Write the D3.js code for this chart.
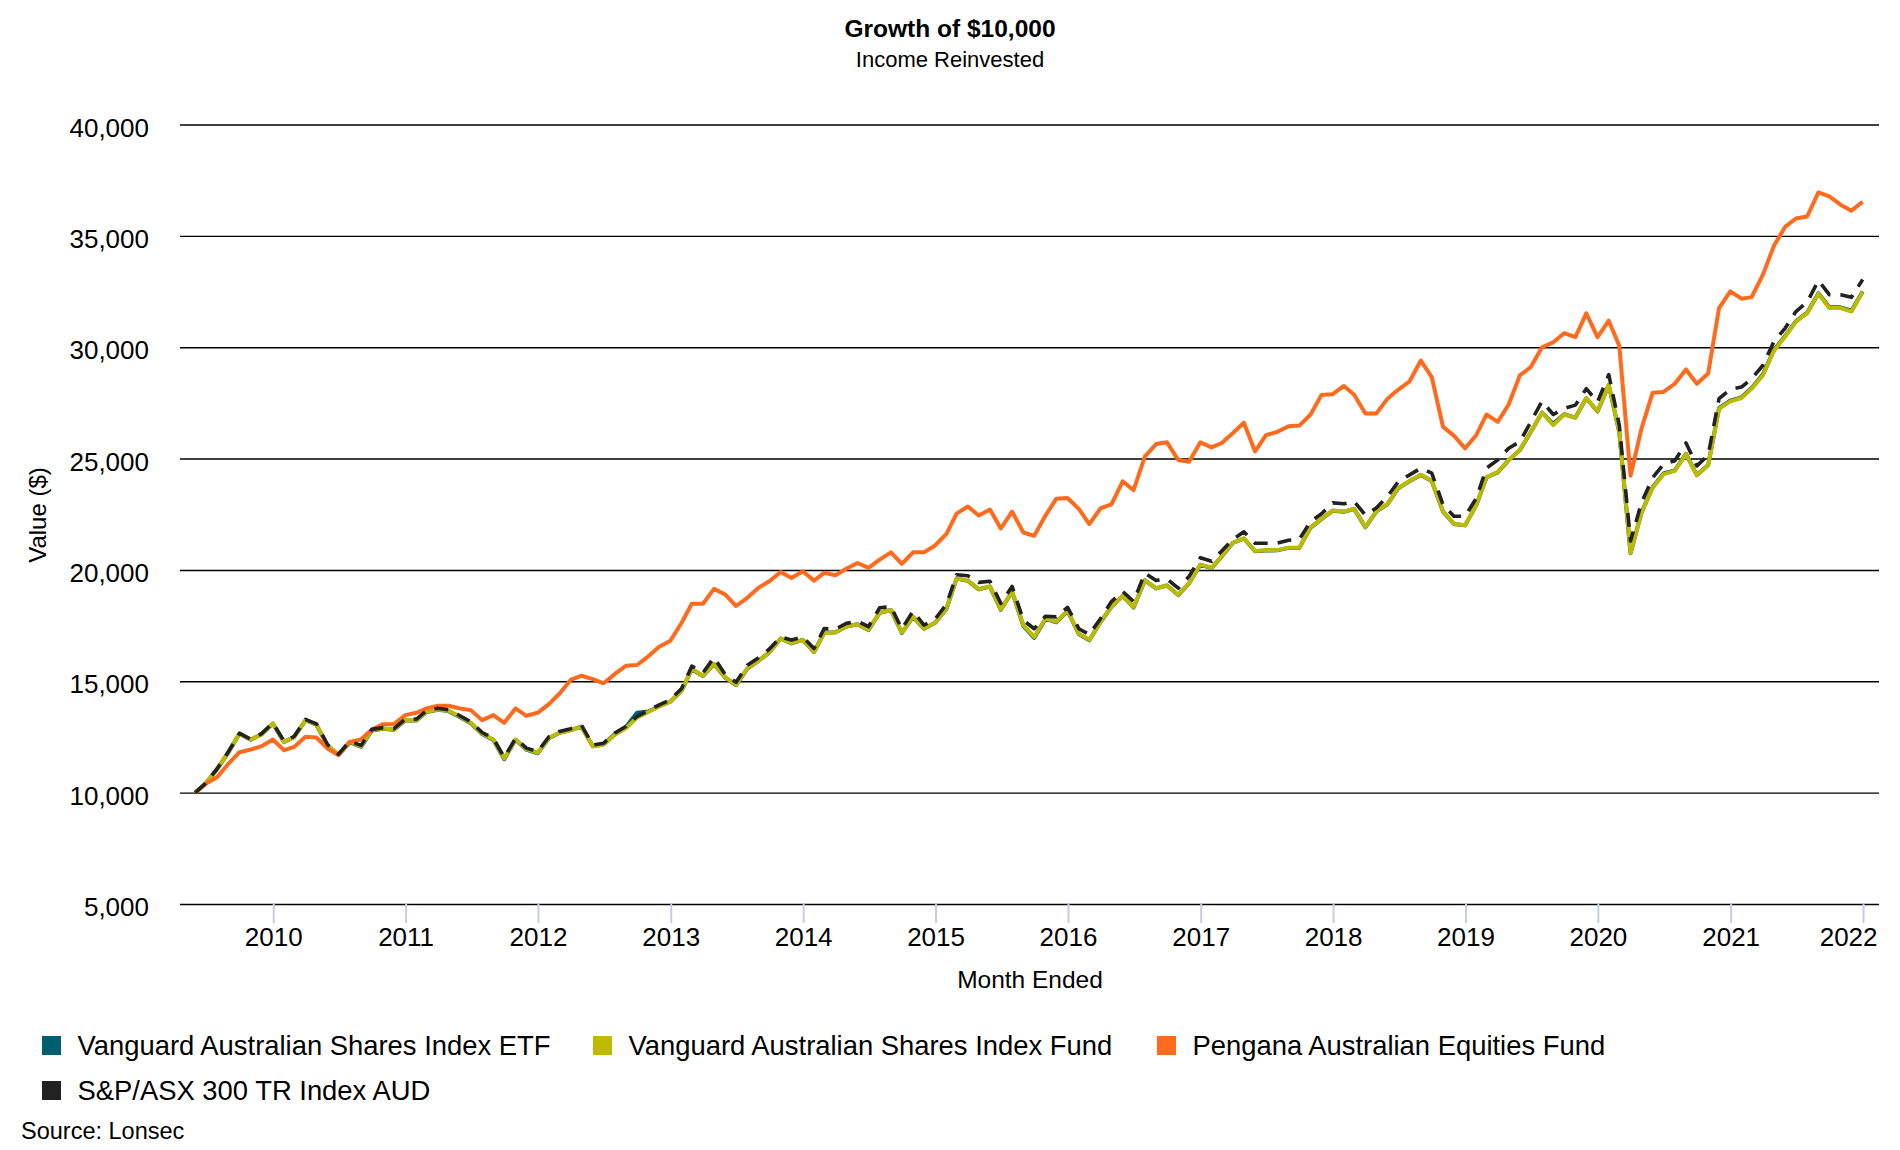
<!DOCTYPE html>
<html>
<head>
<meta charset="utf-8">
<script src="https://cdn.jsdelivr.net/npm/d3@7"></script>
<style>
  body { margin: 0; background: #fff; }
  svg text { font-family: "Liberation Sans", Arial, sans-serif; fill: #000; }
</style>
</head>
<body>
<svg id="chart" width="1900" height="1150"></svg>
<script>
// month-ended values, May 2009 .. Dec 2021
const startYear = 2009;
const startMonth = 4; // May (0-based)

const etfValues = [
  10000, 10430, 11070, 11820, 12650, 12380, 12620, 13100, 12270, 12500,
  13250, 13050, 12110, 11690, 12260, 12060, 12790, 12870, 12820, 13240,
  13240, 13620, 13720, 13660, 13390, 13110, 12630, 12360, 11500, 12370,
  11930, 11770, 12440, 12690, 12810, 12960, 12080, 12170, 12640, 12960,
  13590, 13640, 13880, 14090, 14580, 15540, 15240, 15770, 15170, 14830,
  15570, 15920, 16300, 16920, 16700, 16860, 16310, 17190, 17200, 17460,
  17560, 17300, 18080, 18200, 17170, 17890, 17360, 17630, 18250, 19610,
  19510, 19130, 19250, 18210, 19020, 17490, 16950, 17800, 17650, 18160,
  17120, 16840, 17660, 18340, 18830, 18310, 19530, 19170, 19300, 18870,
  19400, 20230, 20080, 20610, 21220, 21410, 20840, 20870, 20880, 20990,
  20990, 21900, 22280, 22660, 22610, 22740, 21910, 22620, 22950, 23670,
  23990, 24260, 23990, 22620, 22060, 22000, 22920, 24160, 24380, 24930,
  25380, 26190, 27060, 26560, 26990, 26840, 27710, 27110, 28300, 26180,
  20750, 22570, 23710, 24330, 24470, 25210, 24260, 24710, 27260, 27600,
  27750, 28170, 28780, 29860, 30500, 31170, 31550, 32420, 31790, 31790,
  31640, 32500
];

const fundValues = [
  10000, 10435, 11080, 11830, 12655, 12385, 12625, 13105, 12280, 12505,
  13255, 13060, 12130, 11710, 12280, 12085, 12805, 12880, 12835, 13255,
  13255, 13630, 13735, 13675, 13405, 13135, 12655, 12385, 11530, 12385,
  11950, 11790, 12450, 12690, 12800, 12950, 12080, 12150, 12600, 12900,
  13370, 13620, 13870, 14090, 14580, 15550, 15250, 15770, 15180, 14840,
  15580, 15920, 16300, 16920, 16710, 16860, 16320, 17160, 17190, 17460,
  17560, 17310, 18080, 18200, 17190, 17900, 17370, 17630, 18260, 19620,
  19520, 19140, 19260, 18230, 19030, 17520, 16990, 17820, 17670, 18170,
  17140, 16860, 17670, 18350, 18830, 18320, 19530, 19180, 19300, 18880,
  19410, 20240, 20090, 20620, 21230, 21420, 20850, 20880, 20890, 21000,
  21000, 21910, 22290, 22670, 22620, 22750, 21920, 22630, 22960, 23680,
  24000, 24270, 24000, 22630, 22070, 22010, 22930, 24170, 24390, 24940,
  25390, 26200, 27070, 26500, 26980, 26830, 27720, 27130, 28320, 26200,
  20760, 22560, 23690, 24300, 24450, 25200, 24250, 24700, 27230, 27570,
  27720, 28140, 28740, 29830, 30470, 31150, 31530, 32400, 31760, 31760,
  31600, 32480
];

const penganaValues = [
  10000, 10405, 10705, 11305, 11815, 11935, 12085, 12385, 11905, 12055,
  12505, 12475, 11980, 11680, 12280, 12385, 12835, 13075, 13075, 13480,
  13585, 13780, 13900, 13900, 13780, 13705, 13255, 13480, 13135, 13780,
  13450, 13585, 13975, 14440, 15060, 15250, 15100, 14910, 15330, 15700,
  15730, 16120, 16550, 16820, 17630, 18480, 18480, 19150, 18900, 18380,
  18750, 19200, 19490, 19910, 19640, 19940, 19520, 19870, 19760, 20050,
  20310, 20090, 20460, 20790, 20270, 20790, 20790, 21100, 21620, 22530,
  22850, 22440, 22710, 21860, 22620, 21680, 21530, 22440, 23200, 23230,
  22740, 22060, 22770, 22940, 23980, 23580, 25090, 25650, 25730, 24940,
  24860, 25730, 25500, 25700, 26150, 26610, 25320, 26050, 26200, 26450,
  26480, 26980, 27860, 27890, 28260, 27870, 27020, 27020, 27690, 28100,
  28470, 29400, 28660, 26430, 26030, 25460, 26060, 26980, 26650, 27430,
  28740, 29110, 30000, 30220, 30630, 30450, 31520, 30450, 31190, 30070,
  24230, 26330, 27960, 27990, 28360, 29000, 28360, 28820, 31760, 32510,
  32180, 32250, 33260, 34540, 35400, 35780, 35870, 36950, 36770, 36400,
  36130, 36530
];

const indexValues = [
  10000, 10440, 11090, 11850, 12660, 12400, 12650, 13130, 12300, 12530,
  13290, 13090, 12150, 11730, 12310, 12120, 12840, 12920, 12870, 13300,
  13300, 13680, 13790, 13720, 13450, 13180, 12700, 12430, 11580, 12440,
  12000, 11840, 12510, 12750, 12870, 13020, 12140, 12220, 12680, 12980,
  13420, 13680, 13940, 14170, 14680, 15680, 15380, 16070, 15300, 14960,
  15720, 16060, 16450, 16990, 16850, 16990, 16470, 17370, 17340, 17600,
  17700, 17450, 18300, 18350, 17350, 18150, 17520, 17800, 18450, 19780,
  19740, 19440, 19490, 18500, 19260, 17740, 17360, 17920, 17890, 18320,
  17360, 17100, 17820, 18580, 19030, 18580, 19860, 19530, 19590, 19180,
  19710, 20550, 20390, 20850, 21380, 21710, 21200, 21200, 21200, 21330,
  21380, 22170, 22520, 23010, 22970, 23080, 22460, 22780, 23300, 23970,
  24270, 24570, 24350, 22930, 22410, 22410, 23230, 24570, 24940, 25460,
  25760, 26650, 27570, 26980, 27250, 27400, 28140, 27540, 28770, 26500,
  21300, 23010, 24140, 24750, 24900, 25700, 24670, 25150, 27690, 28110,
  28210, 28590, 29190, 30250, 30850, 31600, 32030, 32990, 32360, 32360,
  32240, 33040
];

const seriesNames = [
  "Vanguard Australian Shares Index ETF",
  "Vanguard Australian Shares Index Fund",
  "Pengana Australian Equities Fund",
  "S&P/ASX 300 TR Index AUD"
];
const seriesColors = ["#005e6e", "#bdbb00", "#ff6a1c", "#222222"];
const seriesDash = [null, null, null, "14,10"];

const yTicks = [5000, 10000, 15000, 20000, 25000, 30000, 35000, 40000];
const xTickYears = d3.range(2010, 2023);

const svg = d3.select("#chart");

// month-end dates for every point
const dates = fundValues.map((_, i) => new Date(startYear, startMonth + i + 1, 0));

const series = [etfValues, fundValues, penganaValues, indexValues].map((vals, k) => ({
  name: seriesNames[k],
  color: seriesColors[k],
  dash: seriesDash[k],
  points: vals.map((v, i) => ({ date: dates[i], value: v }))
}));

// --- Scales ---
const plot = { left: 180, right: 1879, top: 124.5, bottom: 904 };

const x = d3.scaleTime()
  .domain([new Date(2009, 3, 19), new Date(2022, 1, 14)])
  .range([plot.left, plot.right]);

const y = d3.scaleLinear()
  .domain([5000, 40000])
  .range([plot.bottom, plot.top]);

// --- Titles ---
svg.append("text")
  .attr("x", 950).attr("y", 36.5)
  .attr("text-anchor", "middle")
  .style("font-size", "24.5px").style("font-weight", "bold")
  .text("Growth of $10,000");

svg.append("text")
  .attr("x", 950).attr("y", 66.5)
  .attr("text-anchor", "middle")
  .style("font-size", "22px")
  .text("Income Reinvested");

// --- Grid + y axis ---
const yAxis = d3.axisLeft(y)
  .tickValues(yTicks)
  .tickSize(-(plot.right - plot.left))
  .tickPadding(31)
  .tickFormat(d3.format(","));

const yAxisG = svg.append("g")
  .attr("transform", `translate(${plot.left},0)`)
  .call(yAxis);

yAxisG.select(".domain").remove();
yAxisG.selectAll(".tick line")
  .attr("stroke", "#000")
  .attr("stroke-width", 1.4);
yAxisG.selectAll(".tick text")
  .attr("dy", "0.45em")
  .style("font-size", "26px");

// --- x axis ---
const xAxis = d3.axisBottom(x)
  .tickValues(xTickYears.map(yr => new Date(yr, 0, 1)))
  .tickSize(19)
  .tickPadding(4)
  .tickFormat(d3.timeFormat("%Y"));

const xAxisG = svg.append("g")
  .attr("transform", `translate(0,${plot.bottom})`)
  .call(xAxis);

xAxisG.select(".domain").remove();
xAxisG.selectAll(".tick line")
  .attr("stroke", "#c3cfdf")
  .attr("stroke-width", 2);
xAxisG.selectAll(".tick text")
  .attr("dy", "0.72em")
  .style("font-size", "26px")
  .each(function () {
    // keep the last label inside the plot
    const box = this.getBBox();
    const tx = x(this.__data__);
    if (tx + box.width / 2 > plot.right) {
      d3.select(this).attr("text-anchor", "end").attr("x", plot.right - 2 - tx);
    }
  });

// axis titles
svg.append("text")
  .attr("x", 1030)
  .attr("y", 988)
  .attr("text-anchor", "middle")
  .style("font-size", "24.5px")
  .text("Month Ended");

svg.append("text")
  .attr("transform", "translate(46,515) rotate(-90)")
  .attr("text-anchor", "middle")
  .style("font-size", "24px")
  .text("Value ($)");

// --- Lines ---
const line = d3.line()
  .x(d => x(d.date))
  .y(d => y(d.value));

svg.append("g")
  .selectAll("path")
  .data(series)
  .join("path")
  .attr("fill", "none")
  .attr("stroke", d => d.color)
  .attr("stroke-width", d => d.dash ? 3.6 : 4)
  .attr("stroke-linejoin", "round")
  .attr("stroke-dasharray", d => d.dash)
  .attr("d", d => line(d.points));

// --- Legend ---
const legendPos = [
  { x: 42, y: 1036 },
  { x: 593, y: 1036 },
  { x: 1157, y: 1036 },
  { x: 42, y: 1081 }
];

const legend = svg.append("g")
  .selectAll("g")
  .data(series)
  .join("g")
  .attr("transform", (d, i) => `translate(${legendPos[i].x},${legendPos[i].y})`);

legend.append("rect")
  .attr("width", 19).attr("height", 19)
  .attr("fill", d => d.color);

legend.append("text")
  .attr("x", 35.5).attr("y", 19)
  .style("font-size", "27.4px")
  .text(d => d.name);

svg.append("text")
  .attr("x", 21).attr("y", 1139)
  .style("font-size", "23.5px")
  .text("Source: Lonsec");
</script>
</body>
</html>
